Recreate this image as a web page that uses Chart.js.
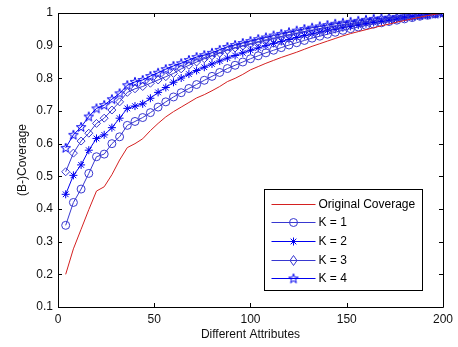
<!DOCTYPE html>
<html>
<head>
<meta charset="utf-8">
<script src="https://cdn.jsdelivr.net/npm/chart.js@4/dist/chart.umd.min.js"></script>
<style>
  html, body { margin: 0; padding: 0; background: #fff; }
  #wrap { width: 458px; height: 347px; position: relative; }
</style>
</head>
<body>
<div id="wrap"><canvas id="chart-coverage"></canvas></div>
<script>
/* coverage vs. number of attributes */

const attributes = [4, 8, 12, 16, 20, 24, 28, 32, 36, 40, 44, 48, 52, 56, 60, 64, 68, 72, 76, 80,
  84, 88, 92, 96, 100, 104, 108, 112, 116, 120, 124, 128, 132, 136, 140, 144, 148, 152, 156, 160,
  164, 168, 172, 176, 180, 184, 188, 192, 196, 200];

const originalCoverage = [0.200, 0.278, 0.338, 0.398, 0.455, 0.468, 0.505, 0.550, 0.588, 0.600,
  0.615, 0.640, 0.662, 0.682, 0.698, 0.712, 0.726, 0.740, 0.750, 0.762,
  0.775, 0.790, 0.800, 0.812, 0.826, 0.836, 0.846, 0.855, 0.864, 0.872,
  0.880, 0.889, 0.898, 0.906, 0.914, 0.922, 0.930, 0.937, 0.943, 0.949,
  0.955, 0.961, 0.966, 0.972, 0.977, 0.982, 0.987, 0.992, 0.996, 1.000];

const k1 = [0.350, 0.420, 0.461, 0.509, 0.560, 0.568, 0.600, 0.621, 0.656, 0.668,
  0.680, 0.695, 0.712, 0.728, 0.743, 0.756, 0.769, 0.781, 0.794, 0.806,
  0.818, 0.830, 0.840, 0.850, 0.860, 0.869, 0.878, 0.886, 0.894, 0.902,
  0.909, 0.916, 0.923, 0.929, 0.935, 0.941, 0.947, 0.952, 0.957, 0.962,
  0.966, 0.970, 0.974, 0.978, 0.982, 0.986, 0.990, 0.993, 0.997, 1.000];

const k2 = [0.445, 0.503, 0.535, 0.580, 0.616, 0.627, 0.649, 0.678, 0.708, 0.715,
  0.722, 0.739, 0.757, 0.772, 0.788, 0.801, 0.813, 0.824, 0.834, 0.844,
  0.853, 0.862, 0.870, 0.878, 0.886, 0.893, 0.900, 0.907, 0.913, 0.919,
  0.925, 0.931, 0.936, 0.941, 0.946, 0.950, 0.955, 0.959, 0.963, 0.967,
  0.971, 0.974, 0.978, 0.981, 0.985, 0.988, 0.991, 0.994, 0.997, 1.000];

const k3 = [0.514, 0.571, 0.608, 0.632, 0.662, 0.678, 0.703, 0.728, 0.757, 0.768,
  0.775, 0.785, 0.795, 0.805, 0.815, 0.829, 0.840, 0.850, 0.860, 0.869,
  0.877, 0.886, 0.893, 0.899, 0.905, 0.911, 0.917, 0.922, 0.928, 0.933,
  0.938, 0.943, 0.947, 0.952, 0.956, 0.960, 0.964, 0.967, 0.971, 0.974,
  0.977, 0.980, 0.983, 0.985, 0.988, 0.990, 0.993, 0.995, 0.998, 1.000];

const k4 = [0.587, 0.627, 0.651, 0.683, 0.708, 0.718, 0.736, 0.754, 0.779, 0.789,
  0.795, 0.807, 0.817, 0.828, 0.838, 0.846, 0.856, 0.865, 0.871, 0.878,
  0.887, 0.896, 0.902, 0.908, 0.914, 0.920, 0.925, 0.931, 0.936, 0.941,
  0.946, 0.951, 0.955, 0.959, 0.963, 0.967, 0.970, 0.973, 0.976, 0.979,
  0.982, 0.984, 0.986, 0.988, 0.990, 0.992, 0.994, 0.996, 0.998, 1.000];

const xTicks = [0, 50, 100, 150, 200];
const yTicks = [0.1, 0.2, 0.3, 0.4, 0.5, 0.6, 0.7, 0.8, 0.9, 1];

const FONT = { family: '"Liberation Sans", Arial, sans-serif', size: 12 };
const RED = '#d42020';
const BLUE_LIGHT = '#3838d0';
const BLUE = '#0000f0';

// matlab-ish pentagram marker, drawn once on a small canvas
function makePentagram(color) {
  const c = document.createElement('canvas');
  c.width = 12; c.height = 12;
  const g = c.getContext('2d');
  const cx = 6, cy = 6.3, ro = 5, ri = 2;
  g.beginPath();
  for (let i = 0; i < 10; i++) {
    const r = i % 2 ? ri : ro;
    const a = -Math.PI / 2 + i * Math.PI / 5;
    const px = cx + r * Math.cos(a), py = cy + r * Math.sin(a);
    i ? g.lineTo(px, py) : g.moveTo(px, py);
  }
  g.closePath();
  g.strokeStyle = color;
  g.lineWidth = 1;
  g.stroke();
  return c;
}
const pentagram = makePentagram(BLUE);

const toXY = ys => attributes.map((a, i) => ({ x: a, y: ys[i] }));

function series(label, ys, color, style, radius) {
  return {
    label,
    data: toXY(ys),
    borderColor: color,
    backgroundColor: 'rgba(0,0,0,0)',
    borderWidth: 1,
    pointStyle: style,
    pointRadius: radius,
    pointBorderColor: color,
    pointBorderWidth: 1,
    pointBackgroundColor: 'rgba(0,0,0,0)',
    tension: 0,
  };
}

/* box + inward ticks, like matlab's "box on" */
const framePlugin = {
  id: 'frame',
  afterDatasetsDraw(chart) {
    const { ctx, chartArea: a, scales: { x, y } } = chart;
    const t = 4;
    ctx.save();
    ctx.strokeStyle = '#000';
    ctx.lineWidth = 1;
    ctx.beginPath();
    ctx.rect(Math.round(a.left) + 0.5, Math.round(a.top) + 0.5,
      Math.round(a.right - a.left), Math.round(a.bottom - a.top));
    xTicks.forEach(v => {
      const px = Math.round(x.getPixelForValue(v)) + 0.5;
      ctx.moveTo(px, a.bottom); ctx.lineTo(px, a.bottom - t);
      ctx.moveTo(px, a.top); ctx.lineTo(px, a.top + t);
    });
    yTicks.forEach(v => {
      const py = Math.round(y.getPixelForValue(v)) + 0.5;
      ctx.moveTo(a.left, py); ctx.lineTo(a.left + t, py);
      ctx.moveTo(a.right, py); ctx.lineTo(a.right - t, py);
    });
    ctx.stroke();
    ctx.restore();
  },
};

/* legend box inside the axes, bottom right */
const legendPlugin = {
  id: 'insideLegend',
  afterDraw(chart) {
    const { ctx, chartArea: a } = chart;
    const w = 158, h = 101;
    const bx = Math.round(a.right - 21 - w) + 0.5;
    const by = Math.round(a.bottom - 17 - h) + 0.5;
    ctx.save();
    ctx.fillStyle = '#fff';
    ctx.fillRect(bx, by, w, h);
    ctx.strokeStyle = '#000';
    ctx.lineWidth = 1;
    ctx.strokeRect(bx, by, w, h);

    ctx.font = `${FONT.size}px ${FONT.family}`;
    ctx.textBaseline = 'middle';
    chart.data.datasets.forEach((ds, i) => {
      const ly = Math.round(by + 14 + i * 18.7) + 0.5;
      const x0 = bx + 7, x1 = bx + 51, xm = (x0 + x1) / 2;
      ctx.strokeStyle = ds.borderColor;
      ctx.beginPath();
      ctx.moveTo(x0, ly); ctx.lineTo(x1, ly);
      ctx.stroke();
      const r = 4;
      ctx.beginPath();
      if (ds.pointStyle === 'circle') {
        ctx.arc(xm, ly, r, 0, Math.PI * 2);
      } else if (ds.pointStyle === 'star') {
        for (let k = 0; k < 4; k++) {
          const ang = k * Math.PI / 4;
          ctx.moveTo(xm - r * Math.cos(ang), ly - r * Math.sin(ang));
          ctx.lineTo(xm + r * Math.cos(ang), ly + r * Math.sin(ang));
        }
      } else if (ds.pointStyle === 'rectRot') {
        ctx.moveTo(xm, ly - 5); ctx.lineTo(xm + 3.5, ly);
        ctx.lineTo(xm, ly + 5); ctx.lineTo(xm - 3.5, ly); ctx.closePath();
      } else if (ds.pointStyle instanceof HTMLCanvasElement) {
        ctx.drawImage(ds.pointStyle, xm - 6, ly - 6);
      }
      ctx.stroke();
      ctx.fillStyle = '#000';
      ctx.fillText(ds.label, x1 + 3, ly);
    });
    ctx.restore();
  },
};

const ctx = document.getElementById('chart-coverage');
new Chart(ctx, {
  type: 'line',
  data: {
    datasets: [
      series('Original Coverage', originalCoverage, RED, false, 0),
      series('K = 1', k1, BLUE_LIGHT, 'circle', 4),
      series('K = 2', k2, BLUE, 'star', 4),
      series('K = 3', k3, BLUE_LIGHT, 'rectRot', 4),
      series('K = 4', k4, BLUE, pentagram, 6),
    ],
  },
  options: {
    responsive: true,
    maintainAspectRatio: false,
    animation: false,
    layout: { padding: { top: 13, right: 13, left: 0, bottom: 0 } },
    plugins: {
      legend: { display: false },
      tooltip: { enabled: false },
    },
    scales: {
      x: {
        type: 'linear',
        min: 0, max: 200,
        afterFit: s => { s.height = 40; },
        afterBuildTicks: s => { s.ticks = xTicks.map(v => ({ value: v })); },
        grid: { display: false, drawTicks: false },
        border: { display: false },
        ticks: { color: '#111', font: FONT, padding: 5, maxRotation: 0 },
        title: {
          display: true, text: 'Different Attributes', color: '#111', font: FONT,
          padding: { top: 0, bottom: 5 },
        },
      },
      y: {
        type: 'linear',
        min: 0.1, max: 1,
        afterFit: s => { s.width = 58; },
        afterBuildTicks: s => { s.ticks = yTicks.map(v => ({ value: v })); },
        grid: { display: false, drawTicks: false },
        border: { display: false },
        ticks: {
          color: '#111', font: FONT, padding: 5,
          callback: v => String(Number(v.toFixed(1))),
        },
        title: {
          display: true, text: '(B-)Coverage', color: '#111', font: FONT,
          padding: { top: 15, bottom: 0 },
        },
      },
    },
  },
  plugins: [framePlugin, legendPlugin],
});
</script>
</body>
</html>
